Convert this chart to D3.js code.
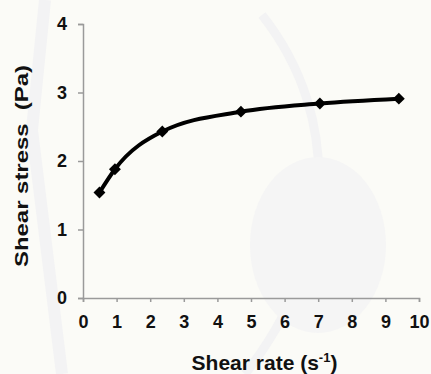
<!DOCTYPE html>
<html>
<head>
<meta charset="utf-8">
<script src="https://cdn.jsdelivr.net/npm/d3@7"></script>
<style>
html,body{margin:0;padding:0;background:#fbfbf7;}
svg{display:block;}
text{font-family:"Liberation Sans",Arial,sans-serif;font-weight:bold;fill:#111;}
</style>
</head>
<body>
<svg id="chart" width="431" height="374"></svg>
<script>
const shearRate = [0.49, 0.95, 2.36, 4.70, 7.05, 9.40];
const shearStress = [1.54, 1.88, 2.43, 2.72, 2.84, 2.91];
const xTicks = [0,1,2,3,4,5,6,7,8,9,10];
const yTicks = [0,1,2,3,4];

const svg = d3.select("#chart");
const W = 431, H = 374;
svg.append("rect").attr("width", W).attr("height", H).attr("fill", "#fbfbf7");

// faint watermark shapes
const wm = svg.append("g").attr("fill", "none").attr("stroke", "#f3f3f4").attr("stroke-width", 12);
wm.append("path").attr("d", "M45,0 L32,130 L62,374");
wm.append("path").attr("d", "M262,15 C345,120 335,260 245,374").attr("stroke-width", 9);
svg.append("ellipse").attr("cx", 318).attr("cy", 245).attr("rx", 68).attr("ry", 88).attr("fill", "#f5f5f5");

const x = d3.scaleLinear().domain([0, 10]).range([83, 419]);
const y = d3.scaleLinear().domain([0, 4]).range([298, 24]);

const xAxis = svg.append("g").attr("transform", `translate(0,${y(0)})`)
  .call(d3.axisBottom(x).tickValues(xTicks).tickSize(4).tickPadding(13).tickFormat(d3.format("d")));
const yAxis = svg.append("g").attr("transform", `translate(${x(0)},0)`)
  .call(d3.axisLeft(y).tickValues(yTicks).tickSize(5).tickPadding(11).tickFormat(d3.format("d")));
[xAxis, yAxis].forEach(a => {
  a.selectAll("path.domain").attr("stroke", "#9a9a9a").attr("stroke-width", 1.5);
  a.selectAll(".tick line").attr("stroke", "#9a9a9a").attr("stroke-width", 1.5);
  a.selectAll(".tick text").style("font-size", "18px").style("font-family", "Liberation Sans, Arial, sans-serif").style("font-weight", "bold").attr("fill", "#111");
});

const data = shearRate.map((v, i) => ({x: v, y: shearStress[i]}));
const line = d3.line().x(d => x(d.x)).y(d => y(d.y)).curve(d3.curveMonotoneX);
svg.append("path").datum(data).attr("d", line).attr("fill", "none")
  .attr("stroke", "#000").attr("stroke-width", 4);

svg.selectAll("path.pt").data(data).enter().append("path").attr("class", "pt")
  .attr("d", d3.symbol().type(d3.symbolDiamond2).size(90))
  .attr("transform", d => `translate(${x(d.x)},${y(d.y)})`)
  .attr("fill", "#000");

// axis titles
svg.append("text").attr("transform", `translate(28,166) rotate(-90)`)
  .attr("text-anchor", "middle").style("font-size", "19px")
  .attr("textLength", 202).attr("lengthAdjust", "spacingAndGlyphs")
  .style("white-space", "pre")
  .text("Shear stress  (Pa)");

const xt = svg.append("text").attr("x", 264.5).attr("y", 370).attr("text-anchor", "middle").style("font-size", "21px");
xt.append("tspan").text("Shear rate (s");
xt.append("tspan").attr("dy", -8).style("font-size", "13px").text("-1");
xt.append("tspan").attr("dy", 8).text(")");
</script>
</body>
</html>
